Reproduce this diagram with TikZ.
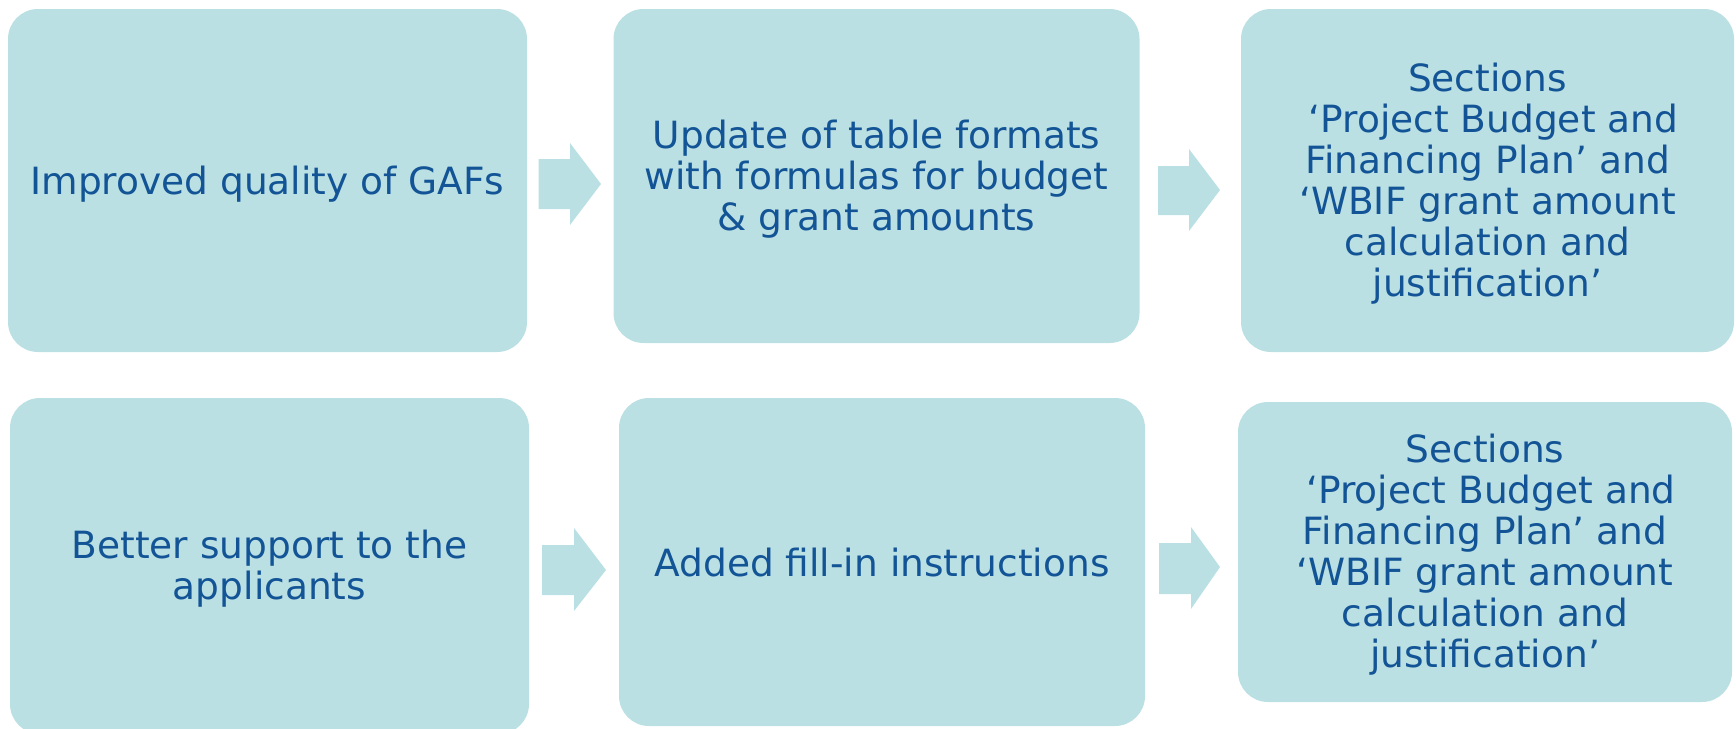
\documentclass[tikz,border=0pt]{standalone}
\usepackage{fontspec}
\setmainfont{DejaVu Sans}
\definecolor{boxfill}{RGB}{187,224,227}
\definecolor{txtblue}{RGB}{18,84,150}
\begin{document}
\begin{tikzpicture}[x=1pt,y=-1pt,
  box/.style={fill=boxfill, draw=none, rounded corners=30pt, inner sep=0pt},
  txt/.style={align=center, text=txtblue, inner sep=0pt, font=\fontsize{37.5}{41}\selectfont},
  blockarrow/.style={fill=boxfill, draw=none}]
\useasboundingbox (0,0) rectangle (1736,728);
\clip (0,0) rectangle (1736,728);
\node[box, minimum width=519pt, minimum height=343pt] (b1) at (267.5,180.5) {};
\node[box, minimum width=526pt, minimum height=334pt] (b2) at (876.5,176) {};
\node[box, minimum width=493pt, minimum height=343pt] (b3) at (1487.5,180.5) {};
\node[box, minimum width=519pt, minimum height=336pt] (b4) at (269.5,566) {};
\node[box, minimum width=526pt, minimum height=328pt] (b5) at (882,562) {};
\node[box, minimum width=494pt, minimum height=300pt] (b6) at (1485,552) {};
\node[txt] (t1) at ([yshift=-3.5pt]b1.center) {Improved quality of GAFs};
\node[txt] (t2) at ([yshift=-3pt]b2.center) {Update of table formats\\with formulas for budget\\\& grant amounts};
\node[txt] (t3) at ([yshift=-3.5pt]b3.center) {Sections\\~‘Project Budget and\\Financing Plan’ and\\‘WBIF grant amount\\calculation and\\justification’};
\node[txt] (t4) at ([yshift=-2.5pt]b4.center) {Better support to the\\applicants};
\node[txt] (t5) at ([yshift=-1pt]b5.center) {Added fill-in instructions};
\node[txt] (t6) at ([yshift=-3pt]b6.center) {Sections\\~‘Project Budget and\\Financing Plan’ and\\‘WBIF grant amount\\calculation and\\justification’};
% block arrows
\fill[blockarrow] (538.6,159) -- (570,159) -- (570,143) -- (601,184) -- (570,225) -- (570,209) -- (538.6,209) -- cycle;
\fill[blockarrow] (1158,166) -- (1189,166) -- (1189,149) -- (1220,190) -- (1189,231) -- (1189,215) -- (1158,215) -- cycle;
\fill[blockarrow] (542,545) -- (574,545) -- (574,528) -- (606,570) -- (574,611) -- (574,595) -- (542,595) -- cycle;
\fill[blockarrow] (1159,543) -- (1191,543) -- (1191,527) -- (1220,567) -- (1191,609) -- (1191,594) -- (1159,594) -- cycle;
\end{tikzpicture}
\end{document}
